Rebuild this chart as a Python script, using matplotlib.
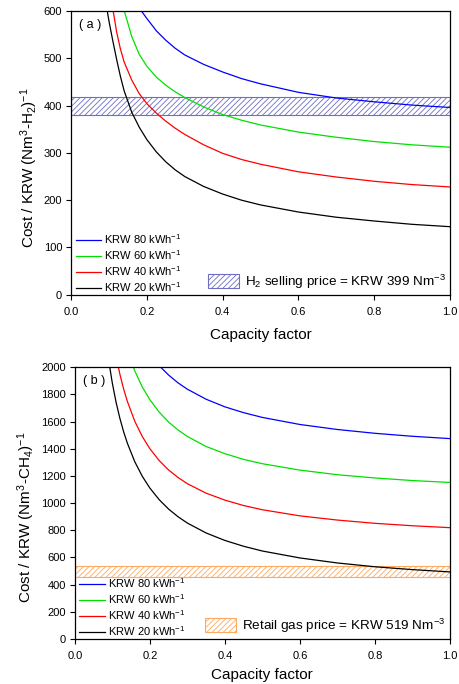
import numpy as np
import matplotlib
matplotlib.use("Agg")
import matplotlib.pyplot as plt
from matplotlib.patches import Patch

plt.rcParams['font.family'] = ['Liberation Sans', 'DejaVu Sans']
plt.rcParams['mathtext.fontset'] = 'custom'
plt.rcParams['mathtext.rm'] = 'Liberation Sans'
plt.rcParams['mathtext.default'] = 'regular'
plt.rcParams['hatch.linewidth'] = 0.6

# capacity factor samples
cf = [0.08, 0.09, 0.10, 0.11, 0.12, 0.13, 0.14, 0.16, 0.18, 0.20, 0.225, 0.25,
      0.275, 0.30, 0.35, 0.40, 0.45, 0.50, 0.60, 0.70, 0.80, 0.90, 1.00]

prices = ["KRW 80 kWh$^{-1}$", "KRW 60 kWh$^{-1}$", "KRW 40 kWh$^{-1}$", "KRW 20 kWh$^{-1}$"]
colors = ["#0000ff", "#00e000", "#ff0000", "#000000"]

# (a) hydrogen cost, KRW per Nm3-H2
h2_80 = [900, 840, 790, 750, 718, 690, 666, 630, 606, 584, 558, 538,
         521, 507, 487, 471, 457, 446, 428, 416, 408, 401, 396]
h2_60 = [905, 835, 775, 722, 675, 635, 601, 546, 508, 483, 460, 443,
         429, 417, 397, 381, 369, 359, 344, 333, 324, 317, 312]
h2_40 = [815, 735, 665, 605, 556, 520, 492, 454, 425, 404, 384, 367,
         352, 339, 317, 299, 286, 276, 260, 249, 240, 233, 228]
h2_20 = [690, 625, 578, 537, 498, 462, 431, 386, 354, 328, 302, 281,
         264, 250, 229, 213, 200, 190, 175, 164, 156, 149, 144]
h2_band = [380, 419]

# (b) methane cost, KRW per Nm3-CH4
ch4_80 = [3269, 3052, 2879, 2737, 2619, 2519, 2433, 2294, 2186, 2099, 2012, 1943,
          1886, 1839, 1765, 1709, 1666, 1631, 1579, 1542, 1514, 1492, 1475]
ch4_60 = [3112, 2849, 2643, 2476, 2339, 2224, 2127, 1973, 1855, 1762, 1670, 1597,
          1539, 1491, 1417, 1364, 1322, 1290, 1243, 1209, 1185, 1166, 1152]
ch4_40 = [2689, 2437, 2241, 2082, 1951, 1842, 1750, 1602, 1490, 1401, 1313, 1244,
          1189, 1143, 1073, 1022, 982, 951, 906, 875, 851, 833, 819]
ch4_20 = [2271, 2056, 1884, 1743, 1626, 1527, 1442, 1304, 1197, 1111, 1025, 956,
          900, 853, 780, 725, 682, 647, 596, 559, 531, 510, 493]
ch4_band = [455, 540]

fig = plt.figure(figsize=(4.59, 6.84), dpi=100)
ax1 = fig.add_axes([0.155, 0.569, 0.825, 0.415])
ax2 = fig.add_axes([0.163, 0.066, 0.817, 0.397])


def draw_panel(ax, series, band, band_color, band_label, ylim, yticks, ylabel, tag,
               ylab_x, xpad):
    lines = []
    for vals, lab, c in zip(series, prices, colors):
        ln, = ax.plot(cf, vals, color=c, lw=0.9, label=lab)
        lines.append(ln)
    ax.axhspan(band[0], band[1], facecolor='none', edgecolor=band_color,
               hatch='//////', lw=0.8)
    ax.set_xlim(0, 1)
    ax.set_ylim(*ylim)
    ax.set_xticks([0.0, 0.2, 0.4, 0.6, 0.8, 1.0])
    ax.set_yticks(yticks)
    ax.tick_params(direction='out', length=3.5, width=0.8, labelsize=8)
    ax.tick_params(axis='x', pad=5)
    ax.tick_params(axis='y', pad=3)
    for s in ax.spines.values():
        s.set_linewidth(0.9)
    ax.set_xlabel("Capacity factor", fontsize=11, labelpad=xpad)
    ax.set_ylabel(ylabel, fontsize=11)
    ax.yaxis.set_label_coords(ylab_x, 0.448)
    ax.text(0.021, 0.95, tag, transform=ax.transAxes, fontsize=9, va='center')

    leg1 = ax.legend(handles=lines, loc='lower left', frameon=False, fontsize=8,
                     handlelength=2.3, handletextpad=0.3, labelspacing=0.2,
                     borderpad=0.2, borderaxespad=0.2, bbox_to_anchor=(0.0, -0.014))
    ax.add_artist(leg1)
    patch = Patch(facecolor='none', edgecolor=band_color, hatch='//////', lw=0.8)
    ax.legend(handles=[patch], labels=[band_label], loc='lower right', frameon=False,
              fontsize=9.7, handlelength=2.3, handleheight=1.2, handletextpad=0.45,
              borderpad=0.2, borderaxespad=0.1, bbox_to_anchor=(1.0, 0.0))


draw_panel(ax1, [h2_80, h2_60, h2_40, h2_20], h2_band, "#6e6ec4",
           "H$_2$ selling price = KRW 399 Nm$^{-3}$", (0, 600),
           [0, 100, 200, 300, 400, 500, 600],
           "Cost / KRW (Nm$^3$-H$_2$)$^{-1}$", "( a )", -0.082, 8)
draw_panel(ax2, [ch4_80, ch4_60, ch4_40, ch4_20], ch4_band, "#ffa95e",
           "Retail gas price = KRW 519 Nm$^{-3}$", (0, 2000),
           list(range(0, 2001, 200)),
           "Cost / KRW (Nm$^3$-CH$_4$)$^{-1}$", "( b )", -0.10, 5)

fig.savefig("out.png", dpi=100)
